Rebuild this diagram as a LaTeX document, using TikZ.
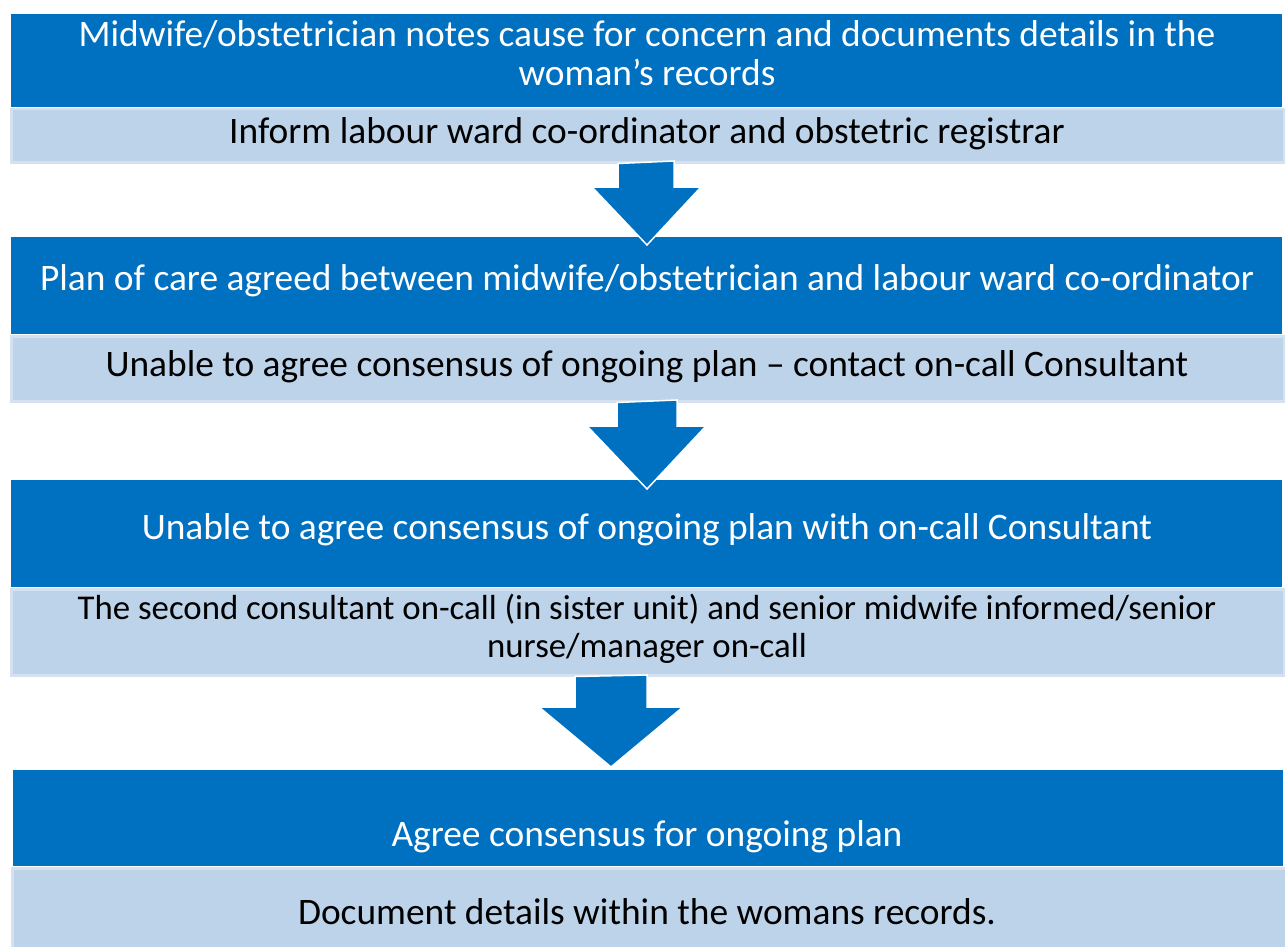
\documentclass[tikz,border=0pt]{standalone}
\usepackage{fontspec}
\setmainfont{Carlito}
\definecolor{darkb}{HTML}{0070C0}
\definecolor{lightb}{HTML}{BDD3EA}
\definecolor{paleb}{HTML}{D5E1EF}
\begin{document}
\begin{tikzpicture}[x=1pt,y=-1pt,
  darkbox/.style={fill=darkb, draw=none, inner sep=0pt, anchor=north west},
  lightbox/.style={fill=lightb, draw=paleb, line width=2.5pt, inner sep=0pt, anchor=north west},
  wtxt/.style={text=white, font=\fontsize{37.4}{39}\selectfont, align=center, inner sep=0pt},
  btxt/.style={text=black, font=\fontsize{37.4}{39}\selectfont, align=center, inner sep=0pt},
  barrow/.style={fill=darkb, draw=white, line width=1.5pt, line join=miter}]
\useasboundingbox (0,0) rectangle (1285,947);
\fill[white] (0,0) rectangle (1285,947);
% boxes
\node[darkbox, minimum width=1271pt, minimum height=93pt] (d1) at (11,14) {};
\node[lightbox, minimum width=1273pt, minimum height=53pt] (l1) at (10,108) {};
\node[darkbox, minimum width=1271pt, minimum height=97pt] (d2) at (11,237) {};
\node[lightbox, minimum width=1273pt, minimum height=65pt] (l2) at (10,335) {};
\node[darkbox, minimum width=1271pt, minimum height=107pt] (d3) at (11,480) {};
\node[lightbox, minimum width=1273pt, minimum height=86pt] (l3) at (10,588) {};
\node[darkbox, minimum width=1270pt, minimum height=96pt] (d4) at (13,770) {};
\node[lightbox, minimum width=1275pt, minimum height=82pt] (l4) at (11,867) {};
% texts
\node[wtxt] (t1) at (647,53) {Midwife/obstetrician notes cause for concern and documents details in the\\woman’s records};
\node[btxt] (t2) at (647,134) {Inform labour ward co-ordinator and obstetric registrar};
\node[wtxt] (t3) at (647,281) {Plan of care agreed between midwife/obstetrician and labour ward co-ordinator};
\node[btxt] (t4) at (647,367) {Unable to agree consensus of ongoing plan – contact on-call Consultant};
\node[wtxt] (t5) at (647,530) {Unable to agree consensus of ongoing plan with on-call Consultant};
\node[btxt, font=\fontsize{34.8}{38}\selectfont] (t6) at (647,629) {The second consultant on-call (in sister unit) and senior midwife informed/senior\\nurse/manager on-call};
\node[wtxt] (t7) at (647,837) {Agree consensus for ongoing plan};
\node[btxt] (t8) at (647,912) {Document details within the womans records.};
% block arrows
\draw[barrow] (l1.south -| 618,0) -- (674,161) -- (674,187) -- (701,187) -- (647,245) -- (592,187) -- (618,187) -- cycle;
\draw[barrow] (l2.south -| 617,0) -- (677,400) -- (677,426) -- (706,426) -- (647,489) -- (587,426) -- (617,426) -- cycle;
\draw[barrow] (l3.south -| 575,0) -- (647,675) -- (647,707) -- (683,707) -- (611,767) -- (539,707) -- (575,707) -- cycle;
\end{tikzpicture}
\end{document}
